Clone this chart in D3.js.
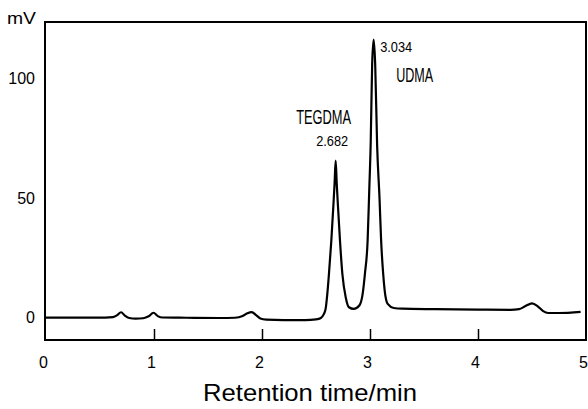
<!DOCTYPE html>
<html>
<head>
<meta charset="utf-8">
<script src="https://cdn.jsdelivr.net/npm/d3@7"></script>
<style>
  html, body { margin: 0; padding: 0; background: #fff; }
  svg { display: block; }
  text { font-family: "Liberation Sans", Arial, sans-serif; fill: #000; }
</style>
</head>
<body>
<svg id="chart" width="588" height="409"></svg>
<script>
// Chromatogram trace: retention time (min) and detector signal (mV)
const times = [
  0.00, 0.30, 0.55, 0.62, 0.66, 0.695, 0.73, 0.77, 0.83, 0.90,
  0.95, 0.995, 1.035, 1.08, 1.30, 1.60, 1.75, 1.82, 1.865, 1.905,
  1.945, 1.985, 2.04, 2.20, 2.40, 2.50, 2.545, 2.570, 2.589, 2.605,
  2.620, 2.642, 2.660, 2.672, 2.682, 2.692, 2.704, 2.722, 2.744, 2.775,
  2.805, 2.850, 2.901, 2.932, 2.953, 2.978, 2.993, 3.007, 3.020, 3.034,
  3.048, 3.066, 3.088, 3.103, 3.122, 3.136, 3.164, 3.22, 3.30, 3.60,
  4.00, 4.30, 4.38, 4.44, 4.50, 4.555, 4.60, 4.65, 4.75, 4.95
];
const signal = [
  0.0, 0.0, 0.0, 0.2, 1.0, 2.2, 0.8, -0.2, -0.5, -0.3,
  0.5, 2.0, 0.6, 0.0, -0.1, -0.2, -0.1, 0.6, 1.8, 2.3,
  1.0, -0.4, -0.9, -1.1, -1.1, -0.8, -0.2, 1.2, 3.6, 10.0,
  18.3, 32.2, 46.1, 56.0, 65.6, 56.0, 46.1, 32.2, 18.3, 8.5,
  4.3, 3.6, 5.0, 9.9, 18.3, 32.2, 53.1, 74.0, 106.0, 116.2,
  106.0, 72.0, 50.0, 32.2, 18.3, 11.3, 5.7, 4.0, 3.7, 3.5,
  3.3, 3.2, 3.5, 4.8, 5.9, 4.6, 2.8, 1.9, 1.9, 2.4
];

// Axis ticks
const xTicks = [0, 1, 2, 3, 4, 5];
const yTicks = [0, 50, 100];

// Peak annotations
const peakNames = ["TEGDMA", "UDMA"];
const peakTimes = [2.682, 3.034];
const peakHeights = [65.6, 116.2];

const svg = d3.select("#chart");
const frame = { left: 45, right: 586, top: 22, bottom: 340 };

const x = d3.scaleLinear().domain([0, 5]).range([46, 586]);
const y = d3.scaleLinear().domain([-9.4, 123.6]).range([frame.bottom, frame.top]);

// Plot frame
svg.append("rect")
  .attr("x", frame.left).attr("y", frame.top)
  .attr("width", frame.right - frame.left).attr("height", frame.bottom - frame.top)
  .attr("fill", "none").attr("stroke", "#000").attr("stroke-width", 2);

// Bottom axis: inward ticks, labels below
const gx = svg.append("g")
  .attr("transform", `translate(0,${frame.bottom})`)
  .call(d3.axisBottom(x).tickValues(xTicks).tickFormat(d3.format("d"))
    .tickSizeInner(-11).tickSizeOuter(0).tickPadding(17));
gx.select(".domain").remove();
gx.selectAll(".tick line")
  .attr("stroke", "#000").attr("stroke-width", 1.5)
  .attr("display", d => (d === 0 || d === 5) ? "none" : null);
gx.selectAll(".tick text")
  .attr("font-size", 16).attr("dx", -3)
  .style("font-family", "'Liberation Sans', Arial, sans-serif");

// Left axis: labels only
const gy = svg.append("g")
  .attr("transform", `translate(${frame.left},0)`)
  .call(d3.axisLeft(y).tickValues(yTicks).tickSize(0).tickPadding(10));
gy.select(".domain").remove();
gy.selectAll(".tick text")
  .attr("font-size", 16)
  .style("font-family", "'Liberation Sans', Arial, sans-serif");

// Unit label
svg.append("text")
  .attr("x", 7).attr("y", 23.5)
  .attr("font-size", 17)
  .attr("textLength", 29).attr("lengthAdjust", "spacingAndGlyphs")
  .text("mV");

// Axis title
svg.append("text")
  .attr("x", 310).attr("y", 401)
  .attr("text-anchor", "middle")
  .attr("font-size", 24)
  .attr("textLength", 214).attr("lengthAdjust", "spacingAndGlyphs")
  .text("Retention time/min");

// Trace
const pts = times.map((t, i) => [t, signal[i]]);
svg.append("path")
  .datum(pts)
  .attr("fill", "none")
  .attr("stroke", "#000")
  .attr("stroke-width", 2.2)
  .attr("stroke-linejoin", "round")
  .attr("d", d3.line().x(d => x(d[0])).y(d => y(d[1])).curve(d3.curveMonotoneX));

// Peak annotations: retention time and compound name
const timeLabelPos = [
  { dx: -19.5, dy: -15 },
  { dx: 6.5, dy: 12 }
];
const nameLabelPos = [
  { dx: -39.5, dy: -37 },
  { dx: 22.5, dy: 42 }
];
const fmt = d3.format(".3f");
peakTimes.forEach((t, i) => {
  const px = x(t), py = y(peakHeights[i]);
  svg.append("text")
    .attr("x", px + timeLabelPos[i].dx).attr("y", py + timeLabelPos[i].dy)
    .attr("font-size", 14)
    .attr("textLength", 32).attr("lengthAdjust", "spacingAndGlyphs")
    .text(fmt(t));
  svg.append("text")
    .attr("x", px + nameLabelPos[i].dx).attr("y", py + nameLabelPos[i].dy)
    .attr("font-size", 19.5)
    .attr("textLength", i === 0 ? 55 : 37).attr("lengthAdjust", "spacingAndGlyphs")
    .text(peakNames[i]);
});
</script>
</body>
</html>
